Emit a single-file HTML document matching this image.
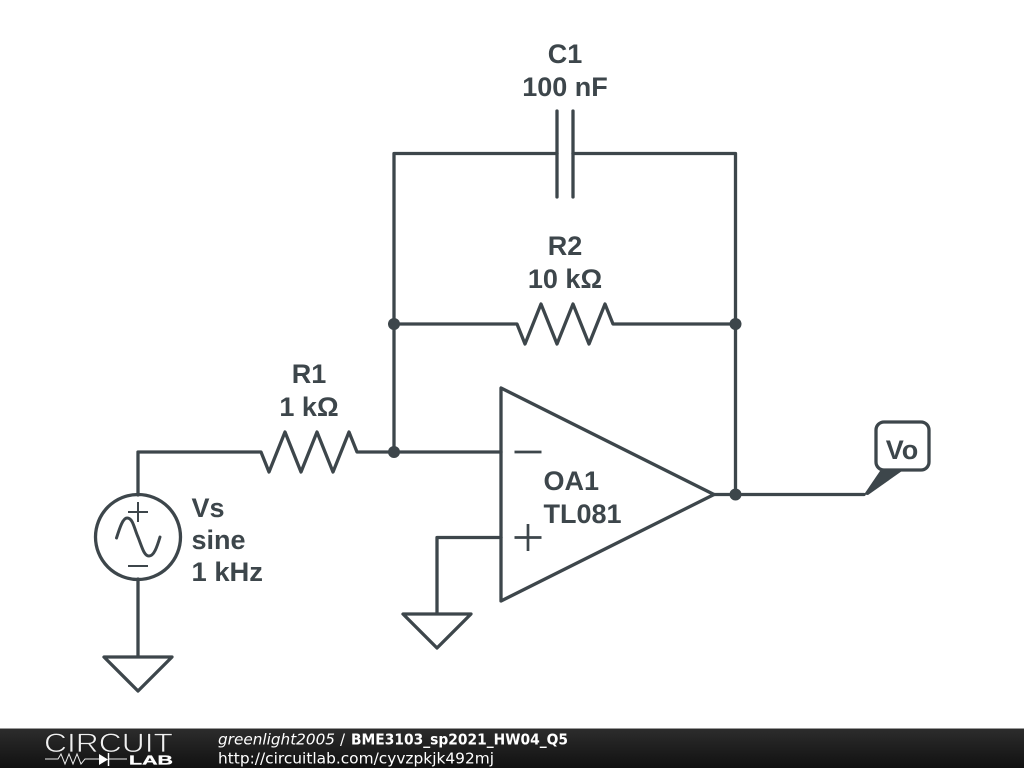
<!DOCTYPE html>
<html><head><meta charset="utf-8"><style>
html,body{margin:0;padding:0;background:#fff;width:1024px;height:768px;overflow:hidden}
svg{display:block}
.l{font-family:"Liberation Sans",sans-serif;font-weight:bold;font-size:27px;fill:#3d464b}
.f{font-family:"DejaVu Sans",sans-serif;font-size:15px;fill:#fff}
</style></head><body>
<svg width="1024" height="768" viewBox="0 0 1024 768" xmlns="http://www.w3.org/2000/svg">
<defs><linearGradient id="g" x1="0" y1="0" x2="0" y2="1"><stop offset="0" stop-color="#2c2c2c"/><stop offset="1" stop-color="#111"/></linearGradient></defs>
<g fill="none" stroke="#3d464b" stroke-width="3.3" stroke-linejoin="round" stroke-linecap="round">
<path d="M138 495V452H261L269 472L285 432L301 472L317 432L333 472L349 432L357 452H501"/>
<path d="M394 452V153.500H557M573 153.500H735.500V494"/>
<path d="M394 324H517L525 344L541 304L557 344L573 304L589 344L605 304L613 324H735.500"/>
<path d="M557 111V197M573 111V197"/>
<path d="M501 388V601L714 494.500Z"/>
<path d="M514.500 452H541.500M514.500 537.500H541.500M528 524V551" stroke-width="2.700" stroke-linecap="butt"/>
<path d="M501 537.500H437V614M403 614H471L437 648Z"/>
<circle cx="138" cy="537" r="42.500"/>
<path d="M128 512H148M138 502V522M128 566H148" stroke-width="2" stroke-linecap="butt"/>
<path d="M116.500 538C120 527 123 518 127 518C133 518 134 528 138 537C142 547 144 556 149 556C154 556 157 547 160 537" stroke-width="3"/>
<path d="M138 579V657M104 657H172L138 691Z"/>
<path d="M714 494.500H864"/>
<rect x="876" y="422" width="53" height="48" rx="8"/>
</g>
<path d="M864 494.500L880 471H902L868 495Z" fill="#3d464b"/>
<g fill="#3d464b"><circle cx="394" cy="324" r="6"/><circle cx="735.500" cy="324" r="6"/><circle cx="394" cy="452" r="6"/><circle cx="735.500" cy="494.500" r="6"/></g>
<g class="l" text-anchor="middle">
<text x="565" y="63">C1</text><text x="565" y="96">100 nF</text>
<text x="565" y="255">R2</text><text x="565" y="288">10 kΩ</text>
<text x="309" y="383">R1</text><text x="309" y="416">1 kΩ</text>
<text x="902" y="459">Vo</text>
</g>
<g class="l">
<text x="543.500" y="490">OA1</text><text x="543.500" y="523">TL081</text>
<text x="191.500" y="517">Vs</text>
<text x="191.500" y="549">sine</text>
<text x="191.500" y="581" textLength="71.500" lengthAdjust="spacingAndGlyphs">1 kHz</text>
</g>
<rect x="0" y="728" width="1024" height="1" fill="#999"/>
<rect x="0" y="729" width="1024" height="39" fill="url(#g)"/>
<text x="44" y="752" textLength="129" lengthAdjust="spacingAndGlyphs" font-family="'Liberation Sans',sans-serif" font-size="26.500" fill="#f0f0f0" stroke="#1e1e1e" stroke-width="0.700">CIRCUIT</text>
<text x="129" y="764.500" textLength="44" lengthAdjust="spacingAndGlyphs" font-family="'Liberation Sans',sans-serif" font-size="13" font-weight="bold" fill="#fff" stroke="#fff" stroke-width="0.300">LAB</text>
<path d="M45 759H58L61 754L65 764L69 754L73 764L77 754L81 764L85 759H99M108 759H127" fill="none" stroke="#eee" stroke-width="1"/>
<path d="M99 754V765L108 759.500Z" fill="#fff"/><path d="M108.500 753V766" stroke="#fff" stroke-width="1.500"/>
<text class="f" x="218" y="744.500" font-style="italic" textLength="117" lengthAdjust="spacingAndGlyphs">greenlight2005</text>
<text class="f" x="340" y="744.500">/</text>
<text class="f" x="351" y="744.500" font-weight="bold" textLength="217" lengthAdjust="spacingAndGlyphs">BME3103_sp2021_HW04_Q5</text>
<text class="f" x="218" y="763.500" textLength="276" lengthAdjust="spacingAndGlyphs">http://circuitlab.com/cyvzpkjk492mj</text>
</svg>
</body></html>
